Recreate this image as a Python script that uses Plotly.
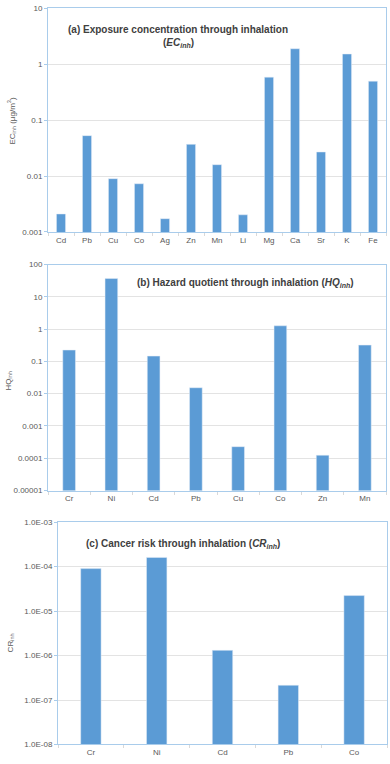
import plotly.graph_objects as go

# (a) exposure concentration through inhalation
ec_metals = ["Cd", "Pb", "Cu", "Co", "Ag", "Zn", "Mn", "Li", "Mg", "Ca", "Sr", "K", "Fe"]
ec_values = [0.0021, 0.053, 0.009, 0.0073, 0.00173, 0.037, 0.016, 0.00203, 0.59, 1.9, 0.027, 1.53, 0.50]
ec_ticks = [0.001, 0.01, 0.1, 1, 10]
ec_ticktext = ["0.001", "0.01", "0.1", "1", "10"]

# (b) hazard quotient through inhalation
hq_metals = ["Cr", "Ni", "Cd", "Pb", "Cu", "Co", "Zn", "Mn"]
hq_values = [0.225, 37, 0.146, 0.0153, 0.000228, 1.27, 0.000124, 0.32]
hq_ticks = [1e-5, 1e-4, 1e-3, 1e-2, 0.1, 1, 10, 100]
hq_ticktext = ["0.00001", "0.0001", "0.001", "0.01", "0.1", "1", "10", "100"]

# (c) cancer risk through inhalation
cr_metals = ["Cr", "Ni", "Cd", "Pb", "Co"]
cr_values = [9.0e-5, 1.61e-4, 1.31e-6, 2.15e-7, 2.23e-5]
cr_ticks = [1e-8, 1e-7, 1e-6, 1e-5, 1e-4, 1e-3]
cr_ticktext = ["1.0E-08", "1.0E-07", "1.0E-06", "1.0E-05", "1.0E-04", "1.0E-03"]

W, H = 390, 764
bar_color = "#5B9BD5"
box_color = "#A9CCEB"
grid_color = "#E3E3E3"
tick_font = dict(family="Liberation Sans, Arial", size=8, color="#595959")


def px_y(p):
    return 1 - p / H


def px_x(p):
    return p / W


fig = go.Figure()
fig.add_bar(x=ec_metals, y=ec_values, width=0.35, marker_color=bar_color, xaxis="x", yaxis="y")
fig.add_bar(x=hq_metals, y=hq_values, width=0.3, marker_color=bar_color, xaxis="x2", yaxis="y2")
fig.add_bar(x=cr_metals, y=cr_values, width=0.31, marker_color=bar_color, xaxis="x3", yaxis="y3")

xcommon = dict(showline=True, linecolor=box_color, linewidth=1, mirror=True,
               ticks="outside", tickson="boundaries", ticklen=3, tickcolor="#D9D9D9",
               tickfont=tick_font, showgrid=False)
ycommon = dict(type="log", showline=True, linecolor=box_color, linewidth=1, mirror=True,
               ticks="outside", ticklen=3, tickcolor=box_color, tickfont=tick_font,
               gridcolor=grid_color, gridwidth=1, zeroline=False)

fig.update_layout(
    width=W, height=H,
    margin=dict(l=0, r=0, t=0, b=0),
    paper_bgcolor="white", plot_bgcolor="white",
    showlegend=False,
    font=dict(family="Liberation Sans, Arial", color="#404040"),
    xaxis=dict(domain=[px_x(48), px_x(386)], anchor="y", **xcommon),
    yaxis=dict(domain=[px_y(230.7), px_y(4.5)], anchor="x", range=[-3, 1],
               tickvals=ec_ticks, ticktext=ec_ticktext, **ycommon),
    xaxis2=dict(domain=[px_x(48), px_x(386)], anchor="y2", **xcommon),
    yaxis2=dict(domain=[px_y(492.3), px_y(263.7)], anchor="x2", range=[-5, 2],
                tickvals=hq_ticks, ticktext=hq_ticktext, **ycommon),
    xaxis3=dict(domain=[px_x(58), px_x(387)], anchor="y3", **xcommon),
    yaxis3=dict(domain=[px_y(749.3), px_y(524.3)], anchor="x3", range=[-8, -3],
                tickvals=cr_ticks, ticktext=cr_ticktext, **ycommon),
)

title_font = dict(family="Liberation Sans, Arial", size=10, color="#404040")
axis_font = dict(family="Liberation Sans, Arial", size=8, color="#595959")
notes = [
    dict(x=px_x(178), y=px_y(26), text="<b>(a) Exposure concentration through inhalation</b>", font=title_font),
    dict(x=px_x(178), y=px_y(39.5), text="<b>(<i>EC<sub>inh</sub></i>)</b>", font=title_font),
    dict(x=px_x(245), y=px_y(282), text="<b>(b) Hazard quotient through inhalation (<i>HQ<sub>inh</sub></i>)</b>", font=title_font),
    dict(x=px_x(183), y=px_y(546), text="<b>(c) Cancer risk through inhalation (<i>CR<sub>inh</sub></i>)</b>", font=title_font),
    dict(x=px_x(12), y=px_y(118), text="EC<sub>inh</sub> (µg/m<sup>3</sup>)", font=axis_font, textangle=-90),
    dict(x=px_x(8), y=px_y(382), text="HQ<sub>inh</sub>", font=axis_font, textangle=-90),
    dict(x=px_x(11), y=px_y(647), text="CR<sub>inh</sub>", font=axis_font, textangle=-90),
]
for n in notes:
    fig.add_annotation(xref="paper", yref="paper", showarrow=False,
                       xanchor="center", yanchor="middle", **n)

fig.write_html("out.html", config={"displayModeBar": False},
               post_script="document.body.style.margin='0';document.body.style.overflow='hidden';")
